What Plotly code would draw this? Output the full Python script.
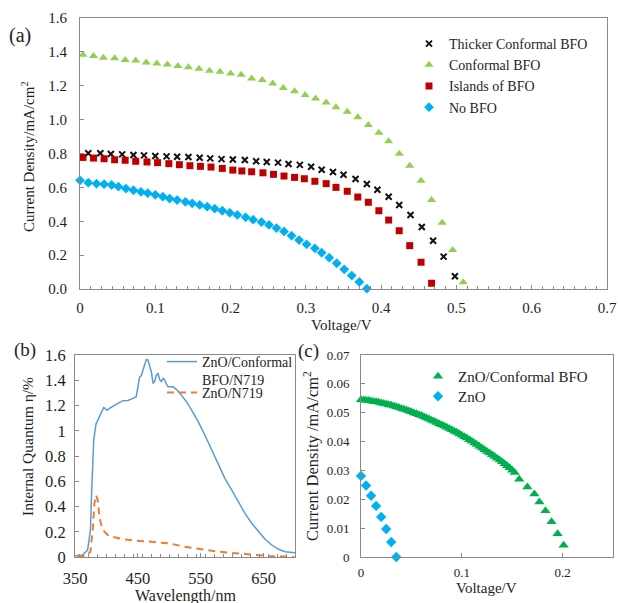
import plotly.graph_objects as go

W, H = 618, 603

# ---------------- (a) J-V curves, ZnO photoanodes with BFO coatings ----------------
v_thick = [0.011, 0.027, 0.041, 0.056, 0.071, 0.085, 0.100, 0.115, 0.129, 0.144,
           0.159, 0.173, 0.188, 0.203, 0.219, 0.234, 0.248, 0.263, 0.277, 0.292,
           0.307, 0.321, 0.336, 0.350, 0.366, 0.381, 0.395, 0.410, 0.424, 0.439,
           0.454, 0.469, 0.483, 0.498]
j_thick = [0.801, 0.801, 0.797, 0.795, 0.791, 0.789, 0.785, 0.783, 0.781, 0.779,
           0.775, 0.771, 0.767, 0.765, 0.762, 0.754, 0.750, 0.746, 0.738, 0.733,
           0.722, 0.704, 0.691, 0.675, 0.649, 0.620, 0.586, 0.545, 0.496, 0.437,
           0.366, 0.285, 0.191, 0.075]

v_conf = [0.004, 0.018, 0.031, 0.046, 0.060, 0.074, 0.088, 0.102, 0.116, 0.130,
          0.144, 0.158, 0.172, 0.186, 0.200, 0.214, 0.228, 0.242, 0.256, 0.270,
          0.285, 0.299, 0.313, 0.327, 0.340, 0.355, 0.369, 0.383, 0.397, 0.410,
          0.424, 0.438, 0.453, 0.467, 0.481, 0.495, 0.509]
j_conf = [1.383, 1.375, 1.365, 1.362, 1.352, 1.349, 1.338, 1.332, 1.326, 1.316,
          1.309, 1.300, 1.288, 1.282, 1.273, 1.265, 1.243, 1.234, 1.214, 1.187,
          1.167, 1.145, 1.125, 1.101, 1.073, 1.047, 1.014, 0.968, 0.923, 0.872,
          0.799, 0.728, 0.639, 0.525, 0.391, 0.230, 0.040]

v_isl = [0.004, 0.018, 0.032, 0.046, 0.060, 0.074, 0.089, 0.103, 0.118, 0.132,
         0.146, 0.160, 0.174, 0.189, 0.203, 0.215, 0.228, 0.243, 0.257, 0.271,
         0.285, 0.298, 0.312, 0.327, 0.340, 0.355, 0.369, 0.383, 0.397, 0.410,
         0.424, 0.438, 0.453, 0.467]
j_isl = [0.777, 0.773, 0.769, 0.763, 0.760, 0.754, 0.750, 0.746, 0.740, 0.734,
         0.728, 0.724, 0.720, 0.712, 0.702, 0.697, 0.692, 0.686, 0.677, 0.667,
         0.659, 0.651, 0.636, 0.622, 0.600, 0.577, 0.543, 0.512, 0.462, 0.407,
         0.344, 0.256, 0.158, 0.034]

v_none = [0.000, 0.011, 0.022, 0.032, 0.042, 0.051, 0.061, 0.071, 0.081, 0.090,
          0.100, 0.110, 0.119, 0.129, 0.140, 0.149, 0.159, 0.169, 0.179, 0.189,
          0.199, 0.209, 0.220, 0.230, 0.241, 0.251, 0.261, 0.271, 0.281, 0.291,
          0.301, 0.312, 0.321, 0.331, 0.341, 0.351, 0.361, 0.371, 0.381]
j_none = [0.642, 0.628, 0.622, 0.619, 0.614, 0.604, 0.593, 0.583, 0.574, 0.566,
          0.556, 0.545, 0.534, 0.525, 0.515, 0.506, 0.496, 0.486, 0.474, 0.462,
          0.450, 0.437, 0.423, 0.409, 0.395, 0.378, 0.360, 0.340, 0.315, 0.289,
          0.264, 0.240, 0.214, 0.185, 0.152, 0.116, 0.079, 0.042, 0.002]

# ---------------- (b) internal quantum efficiency spectra ----------------
wl_bfo = [350, 362, 370, 374.5, 376.6, 379.8, 383.5, 387.2, 391.5, 395.8,
          397.9, 401.1, 404.8, 410.2, 418.2, 426.2, 434.2, 442.2, 447.4, 450.2,
          452.7, 455.4, 459.7, 463.4, 466.1, 468.7, 471.4, 474.1, 476.7, 479.4,
          482.1, 484.7, 487.4, 490.1, 492.7, 495.4, 498.1, 506.1, 511.3, 519.3,
          527.3, 535.3, 546, 556.5, 567.3, 578, 588.5, 599.2, 609.9, 620.4,
          631.2, 641.9, 652.4, 663.1, 673.8, 684.3, 695, 700]
iqe_bfo = [0.010, 0.015, 0.055, 0.210, 0.530, 0.930, 1.055, 1.100, 1.140, 1.185,
           1.175, 1.162, 1.177, 1.195, 1.217, 1.238, 1.240, 1.256, 1.270, 1.350,
           1.425, 1.435, 1.505, 1.565, 1.560, 1.505, 1.468, 1.375, 1.390, 1.440,
           1.452, 1.405, 1.390, 1.415, 1.405, 1.370, 1.348, 1.348, 1.328, 1.282,
           1.230, 1.165, 1.072, 0.966, 0.847, 0.729, 0.623, 0.531, 0.438, 0.346,
           0.267, 0.200, 0.140, 0.095, 0.061, 0.042, 0.034, 0.034]

wl_zno = [354, 367.6, 374.5, 378.2, 380.9, 383.5, 386.2, 388.8, 392.6, 396.8,
          402.2, 412.8, 428.8, 444.7, 471.4, 498.1, 524.6, 551.3, 578, 604.5,
          631.2, 657.8, 684.3, 699]
iqe_zno = [0.008, 0.008, 0.042, 0.214, 0.425, 0.490, 0.450, 0.320, 0.240, 0.200,
           0.174, 0.156, 0.140, 0.129, 0.121, 0.108, 0.082, 0.061, 0.042, 0.030,
           0.016, 0.008, 0.003, 0.000]

# ---------------- (c) J-V curves, ZnO with and without conformal BFO ----------------
v_c_bfo = [0.0000, 0.0025, 0.0050, 0.0075, 0.0100, 0.0125, 0.0150, 0.0175, 0.0200, 0.0225,
           0.0250, 0.0275, 0.0300, 0.0325, 0.0350, 0.0375, 0.0400, 0.0425, 0.0450, 0.0475,
           0.0500, 0.0525, 0.0550, 0.0575, 0.0600, 0.0625, 0.0650, 0.0675, 0.0700, 0.0725,
           0.0750, 0.0775, 0.0800, 0.0825, 0.0850, 0.0875, 0.0900, 0.0925, 0.0950, 0.0975,
           0.1000, 0.1025, 0.1050, 0.1075, 0.1100, 0.1125, 0.1150, 0.1175, 0.1200, 0.1225,
           0.1250, 0.1275, 0.1300, 0.1325, 0.1350, 0.1375, 0.1400, 0.1425, 0.1450, 0.1475,
           0.1500, 0.1525, 0.157, 0.165, 0.172, 0.177, 0.183, 0.189, 0.195, 0.201]
j_c_bfo = [0.0545, 0.0544, 0.0543, 0.0542, 0.0541, 0.0539, 0.0538, 0.0536, 0.0534, 0.0532,
           0.0530, 0.0528, 0.0526, 0.0523, 0.0521, 0.0518, 0.0515, 0.0512, 0.0509, 0.0506,
           0.0503, 0.0499, 0.0496, 0.0493, 0.0490, 0.0486, 0.0482, 0.0478, 0.0474, 0.0470,
           0.0466, 0.0462, 0.0458, 0.0454, 0.0450, 0.0445, 0.0441, 0.0436, 0.0432, 0.0427,
           0.0422, 0.0417, 0.0412, 0.0406, 0.0401, 0.0395, 0.0390, 0.0384, 0.0378, 0.0372,
           0.0366, 0.0360, 0.0354, 0.0348, 0.0342, 0.0336, 0.0330, 0.0323, 0.0316, 0.0309,
           0.0301, 0.0293, 0.0269, 0.0243, 0.0218, 0.0191, 0.0160, 0.0122, 0.0081, 0.0041]

v_c_zno = [0.000, 0.005, 0.010, 0.015, 0.020, 0.025, 0.030, 0.035]
j_c_zno = [0.0281, 0.0248, 0.0212, 0.0177, 0.0139, 0.0097, 0.0052, 0.0000]

# ---------------- styling ----------------
SERIF = "Liberation Serif, Times New Roman, Times, DejaVu Serif, serif"
TXT = "#1e1e1e"
AX = "#8a8a8a"


def fx(p):
    return p / W


def fy(p):
    return 1 - p / H


def serif(size):
    return dict(family=SERIF, size=size, color=TXT)


fig = go.Figure()

# (a)
fig.add_trace(go.Scatter(x=v_thick, y=j_thick, mode="markers", name="Thicker Conformal BFO",
                         marker=dict(symbol="x-thin", size=6, line=dict(width=2, color="#111111")),
                         xaxis="x", yaxis="y", legend="legend", cliponaxis=False))
fig.add_trace(go.Scatter(x=v_conf, y=j_conf, mode="markers", name="Conformal BFO",
                         marker=dict(symbol="triangle-up", size=8, color="#92D050"),
                         xaxis="x", yaxis="y", legend="legend", cliponaxis=False))
fig.add_trace(go.Scatter(x=v_isl, y=j_isl, mode="markers", name="Islands of BFO",
                         marker=dict(symbol="square", size=7, color="#C00000"),
                         xaxis="x", yaxis="y", legend="legend", cliponaxis=False))
fig.add_trace(go.Scatter(x=v_none, y=j_none, mode="markers", name="No BFO",
                         marker=dict(symbol="diamond", size=7.5, color="#00B0F0"),
                         xaxis="x", yaxis="y", legend="legend", cliponaxis=False))

# (b)
fig.add_trace(go.Scatter(x=wl_bfo, y=iqe_bfo, mode="lines", name="ZnO/Conformal<br>BFO/N719",
                         line=dict(color="#5B9BD5", width=1.5),
                         xaxis="x2", yaxis="y2", legend="legend2"))
fig.add_trace(go.Scatter(x=wl_zno, y=iqe_zno, mode="lines", name="ZnO/N719",
                         line=dict(color="#ED7D31", width=2, dash="7px,5px"),
                         xaxis="x2", yaxis="y2", legend="legend3"))

# (c)
fig.add_trace(go.Scatter(x=v_c_bfo, y=j_c_bfo, mode="markers", name="ZnO/Conformal BFO",
                         marker=dict(symbol="triangle-up", size=9, color="#00B050"),
                         xaxis="x3", yaxis="y3", legend="legend4", cliponaxis=False))
fig.add_trace(go.Scatter(x=v_c_zno, y=j_c_zno, mode="markers", name="ZnO",
                         marker=dict(symbol="diamond", size=8, color="#00B0F0"),
                         xaxis="x3", yaxis="y3", legend="legend5", cliponaxis=False))

axis_common = dict(showline=True, mirror=True, linecolor=AX, linewidth=1, showgrid=False,
                   zeroline=False, ticks="inside", ticklen=4, tickcolor=AX, tickwidth=1,
                   automargin=False)

fig.update_layout(
    width=W, height=H, margin=dict(l=0, r=0, t=0, b=0, autoexpand=False),
    paper_bgcolor="white", plot_bgcolor="white",
    font=serif(14),
    xaxis=dict(**axis_common, domain=[fx(80), fx(607)], anchor="y", range=[0, 0.7], dtick=0.1,
               tickfont=serif(15), ticklabelstandoff=5,
               minor=dict(ticks="inside", ticklen=3, dtick=0.1 / 7, tickcolor=AX)),
    yaxis=dict(**axis_common, domain=[fy(289), fy(18)], anchor="x", range=[0, 1.6], dtick=0.2,
               tickformat=".1f", tickfont=serif(15), ticklabelstandoff=9),
    xaxis2=dict(**axis_common, domain=[fx(75), fx(295)], anchor="y2", range=[350, 700],
                tickvals=[350, 450, 550, 650], tickfont=serif(16.5), ticklabelstandoff=6,
                minor=dict(ticks="inside", ticklen=3, dtick=100 / 7, tickcolor=AX)),
    yaxis2=dict(**axis_common, domain=[fy(557), fy(355)], anchor="x2", range=[0, 1.6], dtick=0.2,
                tickfont=serif(16.5), ticklabelstandoff=5),
    xaxis3=dict(**axis_common, domain=[fx(361), fx(613)], anchor="y3", range=[0, 0.25],
                tickvals=[0, 0.1, 0.2], tickfont=serif(13), ticklabelstandoff=3),
    yaxis3=dict(**axis_common, domain=[fy(557), fy(355)], anchor="x3", range=[0, 0.07], dtick=0.01,
                tickfont=serif(13), ticklabelstandoff=8),
    legend=dict(x=fx(409), y=fy(28), xanchor="left", yanchor="top", bgcolor="rgba(0,0,0,0)",
                font=serif(14), tracegroupgap=0),
    legend2=dict(x=fx(162), y=fy(346), xanchor="left", yanchor="top", bgcolor="rgba(0,0,0,0)",
                 font=serif(14), valign="top"),
    legend3=dict(x=fx(162), y=fy(377), xanchor="left", yanchor="top", bgcolor="rgba(0,0,0,0)",
                 font=serif(14)),
    legend4=dict(x=fx(418), y=fy(360), xanchor="left", yanchor="top", bgcolor="rgba(0,0,0,0)",
                 font=serif(15)),
    legend5=dict(x=fx(418), y=fy(380), xanchor="left", yanchor="top", bgcolor="rgba(0,0,0,0)",
                 font=serif(15)),
    showlegend=True,
)


def label(text, x, y, size, angle=0):
    fig.add_annotation(text=text, x=fx(x), y=fy(y), xref="paper", yref="paper",
                       xanchor="center", yanchor="middle", showarrow=False, textangle=angle,
                       font=serif(size))


# panel tags
label("(a)", 20, 36, 20)
label("(b)", 25, 350, 19)
label("(c)", 308, 351, 19)

# axis titles
label("Current Density/mA/cm<sup>2</sup>", 28, 157, 15, -90)
label("Voltage/V", 341, 325, 15)
label("Internal Quantum η/%", 27, 447, 15.5, -90)
label("Wavelength/nm", 185, 596, 16)
label("Current Density /mA/cm<sup>2</sup>", 311, 456, 16.5, -90)
label("Voltage/V", 486, 588, 15)

fig.write_html("out.html")
